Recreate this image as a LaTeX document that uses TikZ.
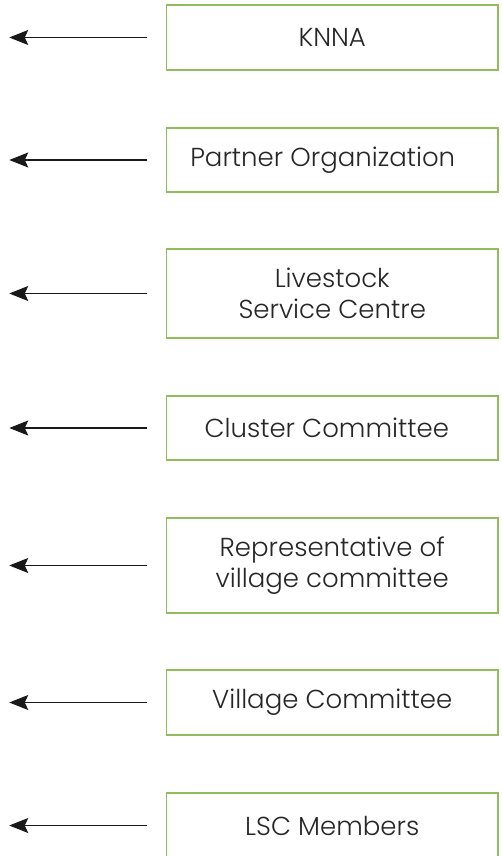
\documentclass[tikz,border=0pt]{standalone}
\usepackage{fontspec}
\setmainfont{Poppins}[UprightFont=* Light]
\usetikzlibrary{arrows.meta}
\definecolor{boxgreen}{HTML}{92BC5C}
\definecolor{txt}{HTML}{262626}
\tikzset{
  box/.style={draw=boxgreen, line width=1.5pt, minimum width=331.5pt, inner sep=0pt,
    align=center, text=txt, font=\fontsize{26}{31}\selectfont},
  arr/.style={draw=black!90, line width=1.2pt, -{Stealth[length=19pt,width=15pt,inset=3.5pt]}}
}
\begin{document}
\begin{tikzpicture}[x=1pt,y=1pt]
\useasboundingbox (0,0) rectangle (502,-856);
\node[box, minimum height=65pt] (b1) at (332.25,-37.5) {KNNA};
\node[box, minimum height=64pt] (b2) at (332.25,-160) {\hspace*{-19pt}Partner Organization};
\node[box, minimum height=89pt] (b3) at (332.25,-293.5) {Livestock\\Service Centre};
\node[box, minimum height=64pt] (b4) at (332.25,-428) {\hspace*{-11pt}Cluster Committee};
\node[box, minimum height=95pt] (b5) at (332.25,-565.5) {Representative of\\village committee};
\node[box, minimum height=65pt] (b6) at (332.25,-702.5) {Village Committee};
\node[box, minimum height=65pt] (b7) at (332.25,-825.5) {LSC Members};
\foreach \i in {1,...,7}{
  \coordinate (s\i) at ([xshift=-18.5pt]b\i.west);
  \coordinate (e\i) at ([xshift=-156.5pt]b\i.west);
  \draw[arr] (s\i) -- (e\i);
}
\end{tikzpicture}
\end{document}
